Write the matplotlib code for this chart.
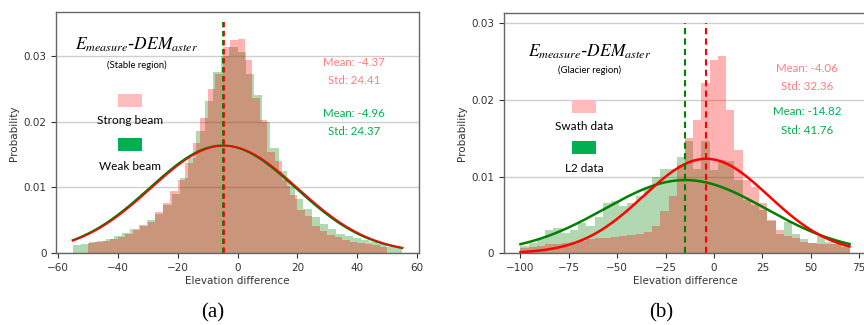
import numpy as np
import matplotlib
matplotlib.use("Agg")
import matplotlib.pyplot as plt
from matplotlib.patches import Rectangle
from matplotlib.ticker import FuncFormatter

# ---------------- data ----------------
# Panel (a): stable region, 40 bins each
a_strong_edges = np.linspace(-50, 50, 41)
a_strong = [0.0016, 0.0017, 0.0018, 0.0021, 0.0025, 0.0030, 0.0036, 0.0041, 0.0048, 0.0063,
            0.0076, 0.0094, 0.0111, 0.0137, 0.0167, 0.0205, 0.0250, 0.0273, 0.0313, 0.0324,
            0.0326, 0.0293, 0.0236, 0.0202, 0.0154, 0.0140, 0.0111, 0.0089, 0.0066, 0.0056,
            0.0042, 0.0034, 0.0028, 0.0024, 0.0020, 0.0017, 0.0016, 0.0014, 0.0012, 0.0010]
a_weak_edges = np.linspace(-55, 55, 41)
a_weak = [0.0013, 0.0014, 0.0017, 0.0019, 0.0022, 0.0026, 0.0031, 0.0037, 0.0043, 0.0050,
          0.0060, 0.0073, 0.0090, 0.0115, 0.0145, 0.0185, 0.0232, 0.0275, 0.0300, 0.0314,
          0.0305, 0.0272, 0.0240, 0.0200, 0.0160, 0.0125, 0.0102, 0.0082, 0.0068, 0.0055,
          0.0045, 0.0037, 0.0030, 0.0026, 0.0023, 0.0020, 0.0017, 0.0014, 0.0010, 0.0008]
a_mean = {"strong": -4.37, "weak": -4.96}
a_std = {"strong": 24.41, "weak": 24.37}

# Panel (b): glacier region, 40 bins from -100 to 70
b_edges = np.linspace(-100, 70, 41)
b_swath = [0.0007, 0.0008, 0.0010, 0.0012, 0.0012, 0.0013, 0.0015, 0.0016, 0.0018, 0.0020,
           0.0020, 0.0021, 0.0022, 0.0024, 0.0025, 0.0028, 0.0036, 0.0055, 0.0075, 0.0115,
           0.0150, 0.0174, 0.0222, 0.0252, 0.0257, 0.0187, 0.0135, 0.0096, 0.0087, 0.0065,
           0.0043, 0.0030, 0.0022, 0.0020, 0.0015, 0.0013, 0.0012, 0.0012, 0.0012, 0.0008]
b_l2 = [0.0010, 0.0014, 0.0018, 0.0030, 0.0033, 0.0027, 0.0031, 0.0040, 0.0036, 0.0047,
        0.0066, 0.0068, 0.0062, 0.0066, 0.0075, 0.0085, 0.0100, 0.0110, 0.0110, 0.0126,
        0.0146, 0.0110, 0.0146, 0.0109, 0.0122, 0.0120, 0.0096, 0.0070, 0.0063, 0.0057,
        0.0042, 0.0025, 0.0041, 0.0025, 0.0018, 0.0013, 0.0022, 0.0015, 0.0012, 0.0011]
b_mean = {"swath": -4.06, "l2": -14.82}
b_std = {"swath": 32.36, "l2": 41.76}

a_xticks = [-60, -40, -20, 0, 20, 40, 60]
b_xticks = [-100, -75, -50, -25, 0, 25, 50, 75]
yticks = [0, 0.01, 0.02, 0.03]

# ---------------- style ----------------
W, H = 864, 325
fig = plt.figure(figsize=(W / 100, H / 100), dpi=100)
plt.rcParams['mathtext.fontset'] = 'stix'

RED = '#ff0000'
GREEN = '#008000'
TXT_PINK = '#ff7c80'
TXT_GREEN = '#00b050'
PATCH_PINK = '#ffbcbc'
PATCH_GREEN = '#00b050'
ANN_FONT = ['Lato', 'DejaVu Sans']


def fx(px):
    return px / W


def fy(py):
    return 1 - py / H


def norm_pdf(x, m, s):
    return np.exp(-0.5 * ((x - m) / s) ** 2) / (s * np.sqrt(2 * np.pi))


def style_axes(ax, xticks, xlim, ylim):
    ax.set_xlim(*xlim)
    ax.set_ylim(*ylim)
    ax.set_xticks(xticks)
    ax.set_yticks(yticks)
    ax.yaxis.set_major_formatter(FuncFormatter(lambda v, _: '0' if v == 0 else f'{v:.2f}'))
    ax.grid(axis='y', color='#cfcfcf', linewidth=1.0)
    ax.set_axisbelow(True)
    for sp in ax.spines.values():
        sp.set_color('#666666')
        sp.set_linewidth(1.0)
    ax.tick_params(labelsize=7.5, colors='#333333', length=3.5, width=0.8)
    ax.set_xlabel('Elevation difference', fontsize=7.5, color='#333333', labelpad=2)
    ax.set_ylabel('Probability', fontsize=7.5, color='#333333', labelpad=3)


# ---------------- panel (a) ----------------
axa = fig.add_axes([fx(56.2), fy(253.3), fx(418.8) - fx(56.2), fy(12.3) - fy(253.3)])
axa.stairs(a_weak, a_weak_edges, fill=True, color=GREEN, alpha=0.3, linewidth=0)
axa.stairs(a_strong, a_strong_edges, fill=True, color=RED, alpha=0.3, linewidth=0)
xa = np.linspace(-55, 55, 300)
axa.plot(xa, norm_pdf(xa, a_mean['weak'], a_std['weak']), color=GREEN, lw=1.5)
axa.plot(xa, norm_pdf(xa, a_mean['strong'], a_std['strong']), color=RED, lw=1.2)
axa.vlines(a_mean['strong'], 0, 0.0352, colors=RED, linestyles=(0, (3, 2)), lw=1.3)
axa.vlines(a_mean['weak'], 0, 0.0352, colors=GREEN, linestyles=(0, (3, 2)), lw=1.3)
style_axes(axa, a_xticks, (-60.5, 60.5), (0, 0.0366))

# ---------------- panel (b) ----------------
axb = fig.add_axes([fx(504), fy(253.3), fx(866) - fx(504), fy(13.3) - fy(253.3)])
axb.stairs(b_l2, b_edges, fill=True, color=GREEN, alpha=0.3, linewidth=0)
axb.stairs(b_swath, b_edges, fill=True, color=RED, alpha=0.3, linewidth=0)
xb = np.linspace(-100, 70, 300)
axb.plot(xb, norm_pdf(xb, b_mean['l2'], b_std['l2']), color=GREEN, lw=1.8)
axb.plot(xb, norm_pdf(xb, b_mean['swath'], b_std['swath']), color=RED, lw=1.8)
axb.vlines(b_mean['l2'], 0, 0.030, colors=GREEN, linestyles=(0, (3, 2)), lw=1.5)
axb.vlines(b_mean['swath'], 0, 0.030, colors=RED, linestyles=(0, (3, 2)), lw=1.5)
style_axes(axb, b_xticks, (-108.5, 78.5), (0, 0.0313))

# ---------------- annotations ----------------
title = r'$E_{measure}$-$DEM_{aster}$'


def annot(cx, title_y, sub, sub_y, labs, patch_boxes, lab_ys, stats, stat_x, stat_ys):
    fig.text(fx(cx), fy(title_y), title, fontsize=12.5, ha='center', va='center')
    fig.text(fx(cx), fy(sub_y), sub, fontsize=6.8, ha='center', va='center', family=ANN_FONT)
    for lab, box, ly, col in zip(labs, patch_boxes, lab_ys, [PATCH_PINK, PATCH_GREEN]):
        x0, x1, ytop, ybot = box
        fig.add_artist(Rectangle((fx(x0), fy(ybot)), (x1 - x0) / W, (ybot - ytop) / H,
                                 transform=fig.transFigure, facecolor=col, edgecolor='none'))
        fig.text(fx((x0 + x1) / 2), fy(ly), lab, fontsize=8.5, ha='center', va='center',
                 family=ANN_FONT)
    for (txt, col), sy in zip(stats, stat_ys):
        fig.text(fx(stat_x), fy(sy), txt, fontsize=8.3, ha='center', va='center', color=col,
                 family=ANN_FONT)


annot(137, 45, '(Stable region)', 65,
      ['Strong beam', 'Weak beam'],
      [(118, 142, 94, 107), (118, 142, 138, 151)],
      [120, 166],
      [('Mean: -4.37', TXT_PINK), ('Std: 24.41', TXT_PINK),
       ('Mean: -4.96', TXT_GREEN), ('Std: 24.37', TXT_GREEN)],
      354, [62, 81, 113, 132])

annot(590, 52, '(Glacier region)', 70,
      ['Swath data', 'L2 data'],
      [(572, 596, 100, 113), (572, 596, 141, 154)],
      [126, 169],
      [('Mean: -4.06', TXT_PINK), ('Std: 32.36', TXT_PINK),
       ('Mean: -14.82', TXT_GREEN), ('Std: 41.76', TXT_GREEN)],
      807, [68, 87, 112, 130])

fig.text(fx(213), fy(313), '(a)', fontsize=15, ha='center', va='center', family='Liberation Serif')
fig.text(fx(661), fy(313), '(b)', fontsize=15, ha='center', va='center', family='Liberation Serif')

fig.savefig('out.png', dpi=100)
